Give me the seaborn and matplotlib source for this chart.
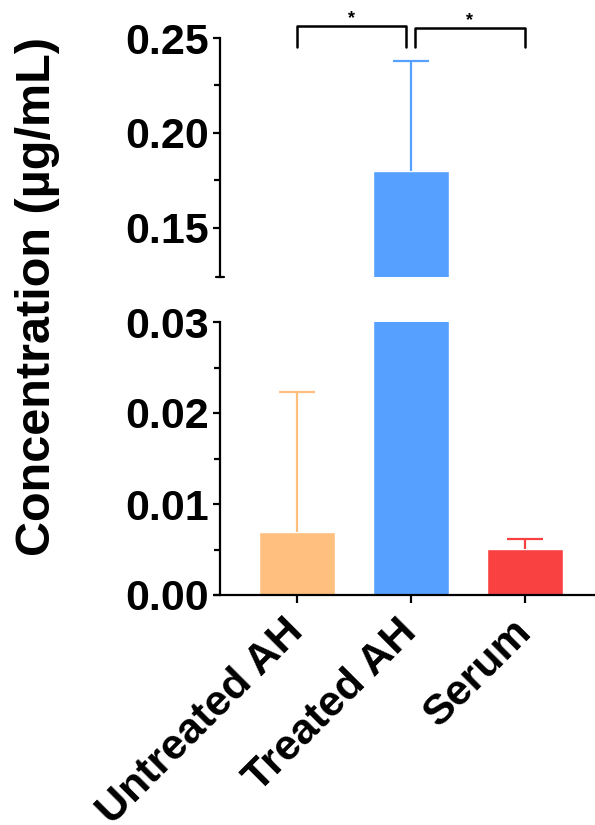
import numpy as np
import matplotlib
matplotlib.use("Agg")
import matplotlib.pyplot as plt
import seaborn as sns

# -----------------------------------
# DATA
# -----------------------------------
groups = ["Untreated AH", "Treated AH", "Serum"]
means = [0.0069, 0.180, 0.0051]
sd_upper = [0.0154, 0.058, 0.0010]
colors = ["#FFC07F", "#56A0FF", "#F94141"]

# significance brackets (group a, group b, label)
comparisons = [(0, 1, "*"), (1, 2, "*")]

top_ticks = [0.15, 0.20, 0.25]
bottom_ticks = [0.00, 0.01, 0.02, 0.03]

# -----------------------------------
# STYLE
# -----------------------------------
sns.set_style("ticks")
plt.rcParams["font.family"] = ["Liberation Sans", "DejaVu Sans"]
plt.rcParams["font.weight"] = "bold"
plt.rcParams["text.color"] = "black"
plt.rcParams["xtick.color"] = "black"
plt.rcParams["ytick.color"] = "black"
plt.rcParams["axes.edgecolor"] = "black"

fig = plt.figure(figsize=(5.95, 8.25), dpi=100)

W, H = 595, 825


def px_axes(left, top, right, bottom):
    return fig.add_axes([left / W, 1 - bottom / H, (right - left) / W, (bottom - top) / H])


ax_top = px_axes(220, 38, 595, 277)
ax_bot = px_axes(215, 322, 595, 595)

for ax in [ax_top, ax_bot]:
    sns.barplot(x=groups, y=means, hue=groups, palette=colors, width=0.66,
                saturation=1, legend=False, ax=ax)
    for i, (m, e, c) in enumerate(zip(means, sd_upper, colors)):
        _, caps, _ = ax.errorbar(i, m, yerr=[[0], [e]], fmt="none", ecolor=c,
                                 elinewidth=1.6, capsize=13, capthick=1.6, zorder=1)
        caps[0].set_visible(False)  # no cap at the bar top
    for side in ["top", "right"]:
        ax.spines[side].set_visible(False)
    ax.spines["left"].set_linewidth(1.6)
    ax.tick_params(axis="y", which="major", length=5, width=1.6, pad=3)
    ax.tick_params(axis="y", which="minor", length=4, width=1.6)
    ax.set_ylabel("")
    ax.set_xlabel("")

# top panel
ax_top.set_xlim(-0.675, 2.614)
ax_top.set_ylim(0.124, 0.25)
ax_top.set_yticks(top_ticks)
ax_top.set_yticks([0.175, 0.225], minor=True)
ax_top.set_yticklabels([f"{t:.2f}" for t in top_ticks], fontsize=31, fontweight="bold")
ax_top.spines["bottom"].set_visible(False)
ax_top.tick_params(axis="x", bottom=False, labelbottom=False)
# small cap at the bottom end of the broken spine
ax_top.plot([-0.675 - 0.035, -0.675 + 0.035], [0.124, 0.124], color="black", lw=1.6,
            clip_on=False)

# bottom panel
ax_bot.set_xlim(-0.719, 2.614)
ax_bot.set_ylim(0, 0.03)
ax_bot.spines["left"].set_position(("data", -0.675))
ax_bot.spines["bottom"].set_linewidth(1.6)
ax_bot.set_yticks(bottom_ticks)
ax_bot.set_yticks([0.005, 0.015, 0.025], minor=True)
ax_bot.set_yticklabels([f"{t:.2f}" for t in bottom_ticks], fontsize=31, fontweight="bold")
ax_bot.set_xticks(range(len(groups)))
ax_bot.set_xticklabels(groups, rotation=45, ha="right", va="center",
                       rotation_mode="anchor", fontsize=31, fontweight="bold")
ax_bot.tick_params(axis="x", length=6, width=1.6, pad=16)

# significance brackets
y_base = 0.2453
for k, (a, b, label) in enumerate(comparisons):
    y_line = 0.2563 - k * 0.001
    xa = a if a == 0 else a + 0.035
    xb = b - 0.045 if b == 1 else b
    ax_top.plot([xa, xa, xb, xb], [y_base, y_line, y_line, y_base],
                color="black", lw=1.8, clip_on=False)
    ax_top.text((xa + xb) / 2, y_line + 0.004, label, ha="center",
                va="center", fontsize=13, color="black", clip_on=False)

fig.text(38 / W, 1 - 297 / H, "Concentration (\u00b5g/mL)", rotation=90,
         ha="center", va="center", fontsize=35, fontweight="bold")

fig.savefig("out.png", dpi=100)
